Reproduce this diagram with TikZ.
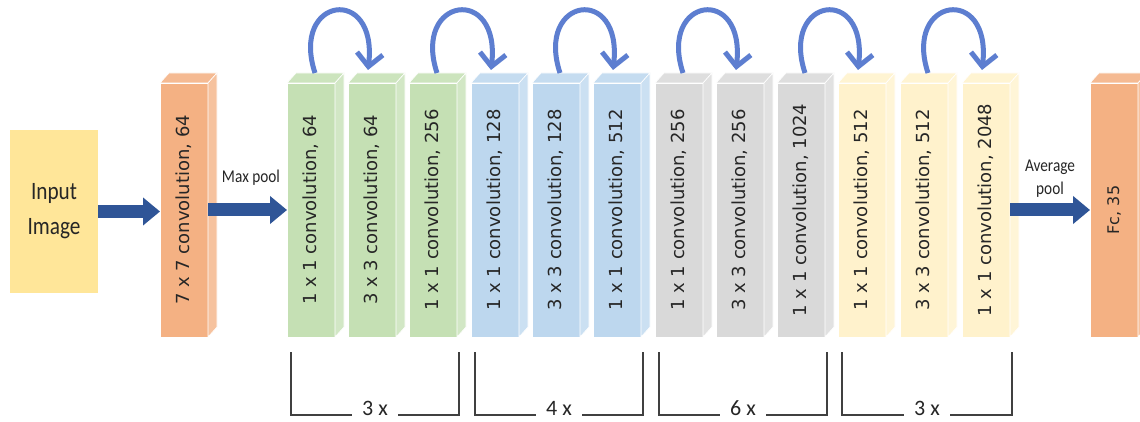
\documentclass[tikz,border=0pt]{standalone}
\usepackage{fontspec}
\setmainfont{Carlito}
\newfontfamily\boxfont{DejaVu Sans}
\newfontfamily\calfont[FakeStretch=0.85]{Carlito}
\usetikzlibrary{arrows.meta,calc}
\definecolor{inputc}{HTML}{FFE699}
\definecolor{orangec}{HTML}{F4B183}
\definecolor{greenc}{HTML}{C5E0B4}
\definecolor{bluec}{HTML}{BDD7EE}
\definecolor{grayc}{HTML}{D9D9D9}
\definecolor{yellowc}{HTML}{FFF2CC}
\definecolor{arrowc}{HTML}{2F5597}
\definecolor{loopc}{RGB}{93,126,208}
\definecolor{txtc}{HTML}{262626}
\definecolor{brc}{HTML}{404040}
\tikzset{
  front/.style={rectangle, minimum width=48pt, minimum height=254pt, inner sep=0pt, outer sep=0pt, draw=white, line width=0.6pt},
  lbl/.style={rotate=90, text=txtc, inner sep=0pt},
  blockarrow/.style={draw=arrowc, line width=13pt, -{Triangle[length=17pt,width=27pt]}},
  skiparrow/.style={draw=loopc, line width=5pt, -{Straight Barb[length=13pt,width=26pt]}},
  bracketline/.style={draw=brc, line width=1.6pt},
  brtext/.style={font=\fontsize{22}{22}\selectfont, text=txtc, inner xsep=10pt, inner ysep=0pt, anchor=base},
  plaintext/.style={font=\calfont\fontsize{18}{23}\selectfont, text=txtc, align=center, inner sep=0pt}
}
\newcommand\layerbox[5]{%
  \node[front, fill=#3] (#1) at (#2+24,210) {};
  \fill[#3!88!white, draw=white, line width=0.6pt] (#1.north west) -- ++(9,-10) -- ++(48,0) -- (#1.north east) -- cycle;
  \fill[#3!78!white, draw=white, line width=0.6pt] (#1.north east) -- ++(9,-10) -- ++(0,254) -- (#1.south east) -- cycle;
  \node[lbl, font=\boxfont\fontsize{#5}{#5}\selectfont] at (#1.center) {#4};
}
\begin{document}
\begin{tikzpicture}[x=1pt, y=-1pt]
\useasboundingbox (0,0) rectangle (1140,422);
\fill[white] (0,0) rectangle (1140,422);

% input
\node[fill=inputc, minimum width=88pt, minimum height=163pt, inner sep=0pt, align=center,
      font=\calfont\fontsize{25}{35}\selectfont, text=txtc] (input) at (54,211.5) {Input\\Image};

% first conv and fc
\layerbox{conv1}{160}{orangec}{7 x 7 convolution, 64}{18}
\layerbox{fc}{1090}{orangec}{Fc, 35}{16}

% residual stages
\layerbox{b1}{287}{greenc}{1 x 1 convolution, 64}{18}
\layerbox{b2}{348}{greenc}{3 x 3 convolution, 64}{18}
\layerbox{b3}{409}{greenc}{1 x 1 convolution, 256}{18}
\layerbox{b4}{471}{bluec}{1 x 1 convolution, 128}{18}
\layerbox{b5}{532}{bluec}{3 x 3 convolution, 128}{18}
\layerbox{b6}{593}{bluec}{1 x 1 convolution, 512}{18}
\layerbox{b7}{655}{grayc}{1 x 1 convolution, 256}{18}
\layerbox{b8}{716}{grayc}{3 x 3 convolution, 256}{18}
\layerbox{b9}{777}{grayc}{1 x 1 convolution, 1024}{18}
\layerbox{b10}{838}{yellowc}{1 x 1 convolution, 512}{18}
\layerbox{b11}{900}{yellowc}{3 x 3 convolution, 512}{18}
\layerbox{b12}{962}{yellowc}{1 x 1 convolution, 2048}{18}

% block arrows
\draw[blockarrow] (input.east) -- (input.east -| conv1.west);
\draw[blockarrow] (conv1.east) -- (b1.west);
\draw[blockarrow] (b12.east) -- (fc.west);
\node[plaintext] (maxpool) at (251,178) {Max pool};
\node[plaintext] (avgpool) at (1050,179) {Average\\pool};

% skip arrows
\foreach \a/\b in {b1/b2, b3/b4, b5/b6, b7/b8, b9/b10, b11/b12}{
  \draw[skiparrow] ($(\a.north)+(4,-10)$) .. controls +(-25,-76) and +(10,-86) .. ($(\b.north)+(-4,-13)$);
}

% brackets
\foreach \g/\f/\l/\t in {1/b1/b3/3 x, 2/b4/b6/4 x, 3/b7/b9/6 x, 4/b10/b12/3 x}{
  \coordinate (g\g a) at ($(\f.south west)+(4,15)$);
  \coordinate (g\g b) at ($(\l.south east)+(2,15)$);
  \node[brtext] (t\g) at ($(g\g a)!0.5!(g\g b)+(0,63)$) {\t};
  \draw[bracketline] (g\g a) |- (t\g.base west);
  \draw[bracketline] (t\g.base east) -| (g\g b);
}
\end{tikzpicture}
\end{document}
